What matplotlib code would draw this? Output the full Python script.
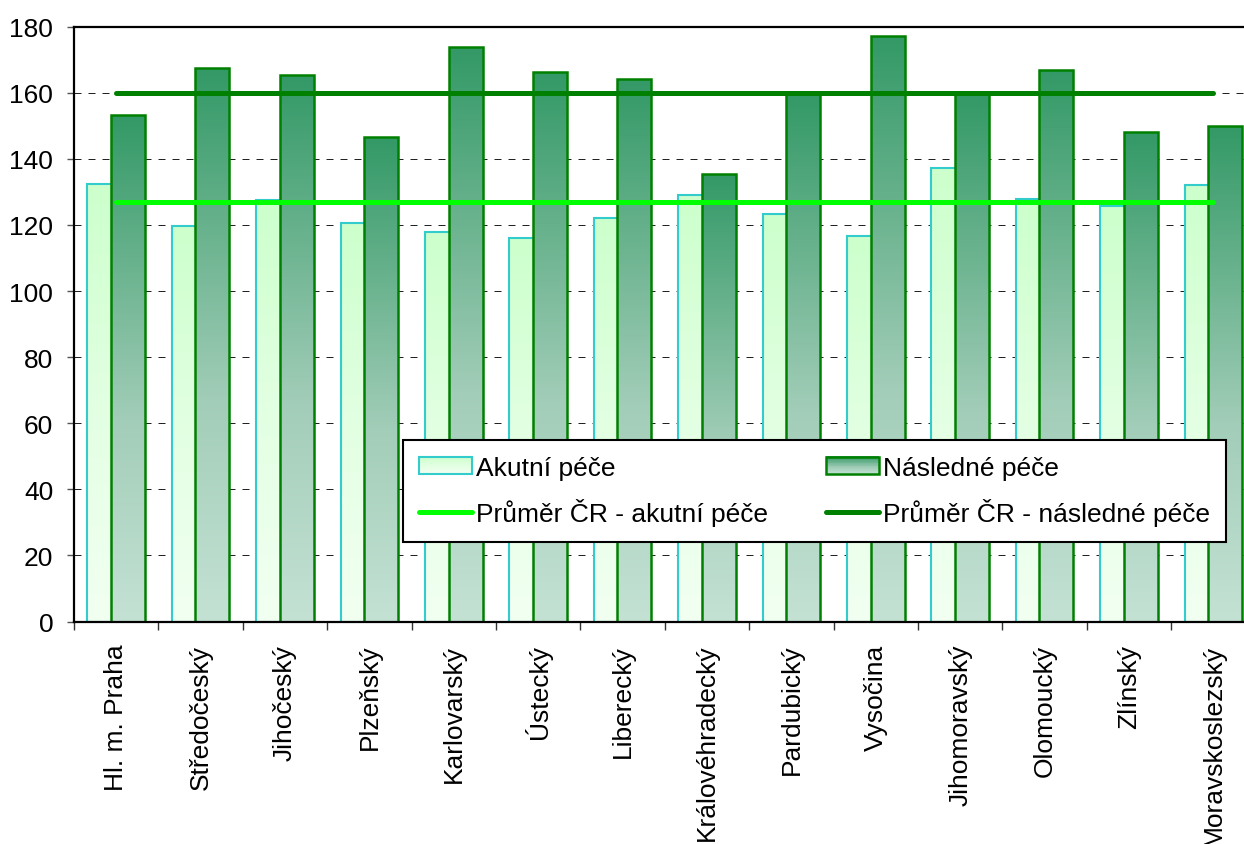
import matplotlib
matplotlib.use("Agg")
import matplotlib.pyplot as plt
import numpy as np
from matplotlib.colors import LinearSegmentedColormap
from matplotlib.patches import Rectangle
from matplotlib.lines import Line2D
from matplotlib.legend_handler import HandlerBase

plt.rcParams['font.family'] = ['Liberation Sans', 'DejaVu Sans']

# data
kraje = ['Hl. m. Praha', 'Středočeský', 'Jihočeský', 'Plzeňský', 'Karlovarský',
         'Ústecký', 'Liberecký', 'Královéhradecký', 'Pardubický', 'Vysočina',
         'Jihomoravský', 'Olomoucký', 'Zlínský', 'Moravskoslezský']
akutni = [132.3, 119.6, 127.7, 120.5, 117.8, 116.0, 122.0, 129.0, 123.2, 116.8,
          137.1, 127.8, 125.8, 132.0]
nasledne = [153.3, 167.6, 165.5, 146.5, 173.9, 166.3, 164.1, 135.3, 159.5, 177.2,
            159.5, 166.8, 148.2, 150.0]
prumer_akutni = 127
prumer_nasledne = 160
yticks = np.arange(0, 181, 20)

#colours
cm_ak = LinearSegmentedColormap.from_list('ak', ['#F2FFF2', '#E2FFE2', '#CCFFCC'])
cm_na = LinearSegmentedColormap.from_list('na', [(0, '#C4E2D4'), (0.4, '#A2CDB8'), (1, '#339966')])
ec_ak = '#33CCCC'
ec_na = '#008000'
fs = 19

fig = plt.figure(figsize=(12.44, 8.45), dpi=100)
# plot area runs past the right edge of the picture, like the reference
ax = fig.add_axes([74/1244., 1-622.5/845., 14*84.4/1244., (622.5-27.7)/845.])

x = np.arange(len(kraje))
w = 0.403
off = 0.140
grad = np.linspace(0, 1, 256).reshape(-1, 1)

def gradient_bars(xpos, vals, cmap, ec, lw, z):
    bars = ax.bar(xpos, vals, w, facecolor='none', edgecolor=ec, linewidth=lw, zorder=z+0.1)
    for p in bars.patches:
        x0 = p.get_x()
        im = ax.imshow(grad, extent=[x0, x0+p.get_width(), 0, p.get_height()], origin='lower',
                       cmap=cmap, aspect='auto', zorder=z, interpolation='bilinear')
        im.set_clip_path(p)
    return bars

gradient_bars(x-off, akutni, cm_ak, ec_ak, 1.5, 2.0)
gradient_bars(x+off, nasledne, cm_na, ec_na, 1.8, 2.2)

ax.plot([x[0], x[-1]], [prumer_akutni]*2, color='#00FF00', lw=3.6, solid_capstyle='round', zorder=3)
ax.plot([x[0], x[-1]], [prumer_nasledne]*2, color='#008000', lw=3.6, solid_capstyle='round', zorder=3.1)

ax.set_xlim(-0.5, len(kraje)-0.5)
ax.set_ylim(0, 180)
ax.set_yticks(yticks)
ax.set_xticks(x)
ax.set_xticklabels(kraje, rotation=90, ha='center', va='top')
ax.set_xticks(np.arange(len(kraje)+1)-0.5, minor=True)
ax.tick_params(axis='x', which='major', length=0, pad=16, labelsize=fs)
ax.tick_params(axis='x', which='minor', length=6, width=1, color='#333333')
ax.tick_params(axis='y', length=5, width=1, pad=10, labelsize=fs, color='#555555')

for s in ['left', 'bottom', 'top']:
    ax.spines[s].set_linewidth(1.6)
    ax.spines[s].set_color('black')
ax.spines['right'].set_visible(False)

for yv in yticks[1:-1]:
    ax.axhline(yv, color='#222222', lw=0.72, linestyle=(0, (7, 7)), zorder=1)

#legend with gradient boxes
class GradientHandler(HandlerBase):
    def __init__(self, cmap, ec, lw):
        HandlerBase.__init__(self)
        self.cmap = cmap
        self.ec = ec
        self.lw = lw
    def create_artists(self, legend, orig_handle, xdescent, ydescent, width, height, fontsize, trans):
        arts = []
        n = 24
        for k in range(n):
            arts.append(Rectangle((-xdescent, -ydescent+height*k/n), width, height/n+0.3,
                                  facecolor=self.cmap((k+0.5)/n), edgecolor='none', transform=trans))
        arts.append(Rectangle((-xdescent, -ydescent), width, height, facecolor='none',
                              edgecolor=self.ec, lw=self.lw, transform=trans))
        return arts

h_ak = Rectangle((0, 0), 1, 1)
h_na = Rectangle((0, 0), 1, 1)
l_ak = Line2D([], [], color='#00FF00', lw=3.6, solid_capstyle='round')
l_na = Line2D([], [], color='#008000', lw=3.6, solid_capstyle='round')
leg = ax.legend([h_ak, l_ak, h_na, l_na],
                ['Akutní péče', 'Průměr ČR - akutní péče', 'Následné péče', 'Průměr ČR - následné péče'],
                handler_map={h_ak: GradientHandler(cm_ak, ec_ak, 1.5), h_na: GradientHandler(cm_na, ec_na, 1.8)},
                ncol=2, loc='upper left', bbox_to_anchor=(0.2784, 0.3052), borderaxespad=0,
                fontsize=fs, handlelength=2.0, handleheight=0.66, handletextpad=0.16,
                columnspacing=2.2, borderpad=0.6, labelspacing=0.7,
                fancybox=False, framealpha=1, edgecolor='black')
leg.get_frame().set_linewidth(1.5)
leg.set_zorder(5)

plt.savefig('out.png', dpi=100)
